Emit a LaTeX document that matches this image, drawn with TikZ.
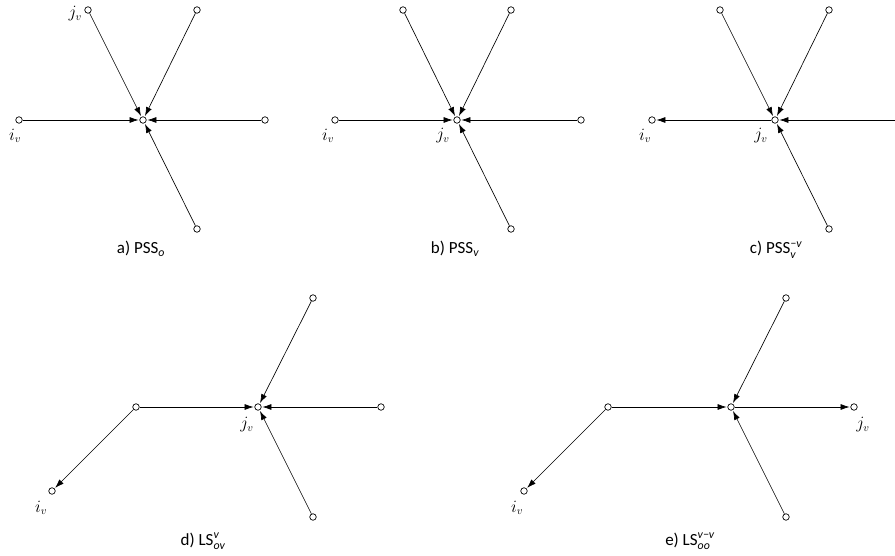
\documentclass[tikz,border=0pt]{standalone}
\usepackage{amsmath}
\usepackage{fontspec}
\newfontfamily\capfont{Carlito}
\usetikzlibrary{arrows.meta}
\begin{document}
\begin{tikzpicture}[x=1pt,y=-1pt,
  dotnode/.style={circle, draw, fill=white, inner sep=0pt, minimum size=6.5pt, line width=0.7pt},
  arr/.style={-{Latex[length=9pt,width=6pt]}, line width=0.65pt, shorten >=0.8pt},
  lbl/.style={font=\fontsize{16}{18}\selectfont, inner sep=1pt},
  captxt/.style={font=\capfont\fontsize{17}{19}\selectfont, anchor=base}]
\useasboundingbox (0,0) rectangle (895,556);
% ---------- a ----------
\node[dotnode] (ac) at (143,120) {};
\node[dotnode] (atl) at (88,10) {};
\node[dotnode] (atr) at (197,10) {};
\node[dotnode] (al) at (19,120) {};
\node[dotnode] (ar) at (265,120) {};
\node[dotnode] (ab) at (197,229) {};
\draw[arr] (atl) -- (ac);
\draw[arr] (atr) -- (ac);
\draw[arr] (al) -- (ac);
\draw[arr] (ar) -- (ac);
\draw[arr] (ab) -- (ac);
\node[lbl, anchor=east] (aj) at (83,14) {$j_v$};
\node[lbl] (ai) at (15,136) {$i_v$};
\node[captxt] (acap) at (141,254) {a) PSS$_{\text{\itshape o}}$};
% ---------- b ----------
\node[dotnode] (bc) at (457,120) {};
\node[dotnode] (btl) at (403,10) {};
\node[dotnode] (btr) at (511,10) {};
\node[dotnode] (bl) at (335,120) {};
\node[dotnode] (br) at (581,120) {};
\node[dotnode] (bb) at (511,229) {};
\draw[arr] (btl) -- (bc);
\draw[arr] (btr) -- (bc);
\draw[arr] (bl) -- (bc);
\draw[arr] (br) -- (bc);
\draw[arr] (bb) -- (bc);
\node[lbl] (bi) at (328,136) {$i_v$};
\node[lbl] (bj) at (443,136) {$j_v$};
\node[captxt] (bcap) at (455,254) {b) PSS$_{\text{\itshape v}}$};
% ---------- c ----------
\node[dotnode] (cc) at (775,120) {};
\node[dotnode] (ctl) at (720,10) {};
\node[dotnode] (ctr) at (829,10) {};
\node[dotnode] (cl) at (652,120) {};
\coordinate (cr) at (895,120);
\node[dotnode] (cb) at (829,229) {};
\draw[arr] (ctl) -- (cc);
\draw[arr] (ctr) -- (cc);
\draw[arr] (cc) -- (cl);
\draw[arr] (cr) -- (cc);
\draw[arr] (cb) -- (cc);
\node[lbl] (ci) at (645,136) {$i_v$};
\node[lbl] (cj) at (761,136) {$j_v$};
\node[captxt] (ccap) at (776,254) {c) PSS$_{\text{\itshape v}}^{\text{\itshape −v}}$};
% ---------- d ----------
\node[dotnode] (dc) at (258,407) {};
\node[dotnode] (dtr) at (313,298) {};
\node[dotnode] (dr) at (381,407) {};
\node[dotnode] (db) at (313,517) {};
\node[dotnode] (dm) at (136,407) {};
\node[dotnode] (di) at (52,491) {};
\draw[arr] (dtr) -- (dc);
\draw[arr] (dr) -- (dc);
\draw[arr] (db) -- (dc);
\draw[arr] (dm) -- (dc);
\draw[arr] (dm) -- (di);
\node[lbl] (dil) at (41,508) {$i_v$};
\node[lbl] (djl) at (247,425) {$j_v$};
\node[captxt] (dcap) at (203,545) {d) LS$_{\text{\itshape ov}}^{\text{\itshape v}}$};
% ---------- e ----------
\node[dotnode] (ec) at (731,407) {};
\node[dotnode] (etr) at (786,298) {};
\node[dotnode] (er) at (854,407) {};
\node[dotnode] (eb) at (786,517) {};
\node[dotnode] (em) at (608,407) {};
\node[dotnode] (ei) at (524,491) {};
\draw[arr] (etr) -- (ec);
\draw[arr] (ec) -- (er);
\draw[arr] (eb) -- (ec);
\draw[arr] (em) -- (ec);
\draw[arr] (em) -- (ei);
\node[lbl] (eil) at (517,508) {$i_v$};
\node[lbl] (ejl) at (863,425) {$j_v$};
\node[captxt] (ecap) at (690,545) {e) LS$_{\text{\itshape oo}}^{\text{\itshape v−v}}$};
\end{tikzpicture}
\end{document}
